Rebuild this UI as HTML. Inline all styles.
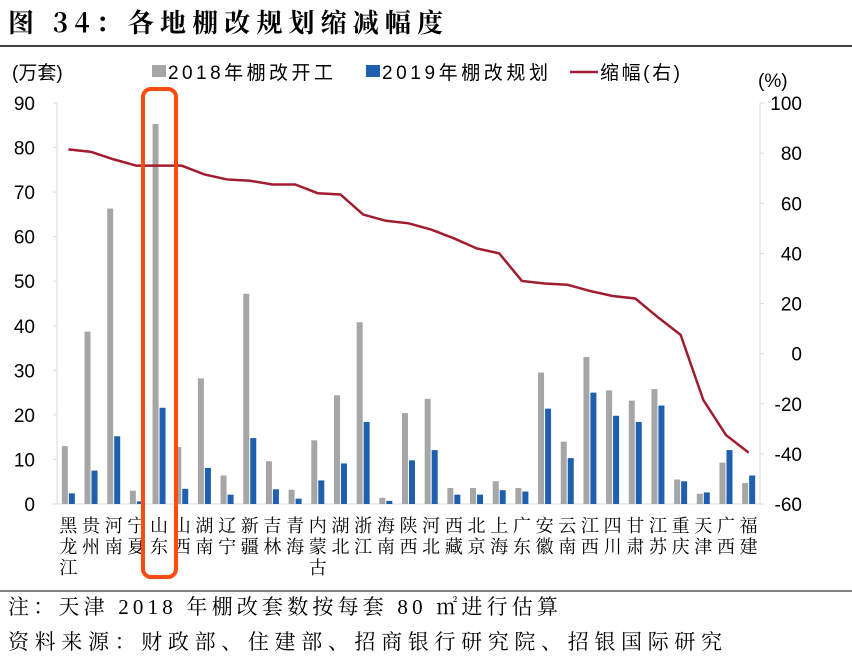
<!DOCTYPE html>
<html><head><meta charset="utf-8"><style>
body{margin:0;background:#fff;width:852px;height:660px;overflow:hidden;font-family:"Liberation Sans","Noto Sans CJK SC",sans-serif}
svg text{font-family:"Liberation Sans","Noto Sans CJK SC",sans-serif}
</style></head><body>
<svg width="852" height="660">
<text x="8" y="32" font-size="26" font-weight="bold" textLength="435" lengthAdjust="spacing" style="font-family:'Noto Serif CJK SC',serif">图 34：各地棚改规划缩减幅度</text>
<line x1="0" y1="46" x2="852" y2="46" stroke="#000" stroke-width="1.5"/>
<text x="12" y="79" font-size="19">(万套)</text>
<text x="758" y="87" font-size="19">(%)</text>
<g>
<rect x="152" y="65" width="14" height="12" fill="#a6a6a6"/>
<text x="168" y="79" font-size="19" textLength="165" lengthAdjust="spacing">2018年棚改开工</text>
<rect x="366" y="65" width="14" height="12" fill="#1f5faf"/>
<text x="382" y="79" font-size="19" textLength="166" lengthAdjust="spacing">2019年棚改规划</text>
<line x1="570" y1="72" x2="598" y2="72" stroke="#a01c2e" stroke-width="2.5"/>
<text x="600" y="79" font-size="19" textLength="80" lengthAdjust="spacing">缩幅(右)</text>
</g>
<g id="axes"></g>
<g id="bars"></g>
<g id="labels"></g>
<rect x="143" y="89" width="33" height="488" rx="8" fill="none" stroke="#ff4a10" stroke-width="4"/>
<line x1="0" y1="591" x2="852" y2="591" stroke="#000" stroke-width="1"/>
<text x="8" y="614" font-size="21" textLength="550" lengthAdjust="spacing" style="font-family:'Liberation Serif','Noto Serif CJK SC',serif">注：天津 2018 年棚改套数按每套 80 ㎡进行估算</text>
<text x="8" y="649" font-size="21" textLength="714" lengthAdjust="spacing" style="font-family:'Liberation Serif','Noto Serif CJK SC',serif">资料来源：财政部、住建部、招商银行研究院、招银国际研究</text>
</svg>
<script>
const categories=["黑龙江","贵州","河南","宁夏","山东","山西","湖南","辽宁","新疆","吉林","青海","内蒙古","湖北","浙江","海南","陕西","河北","西藏","北京","上海","广东","安徽","云南","江西","四川","甘肃","江苏","重庆","天津","广西","福建"];
const starts2018=[13,38.7,66.3,3,85.3,12.8,28.2,6.4,47.2,9.6,3.2,14.3,24.4,40.8,1.4,20.4,23.6,3.6,3.6,5.1,3.6,29.5,14,33,25.5,23.2,25.8,5.5,2.3,9.3,4.7];
const plan2019=[2.4,7.5,15.2,0.6,21.6,3.4,8.1,2.1,14.8,3.3,1.2,5.3,9.1,18.4,0.7,9.8,12.1,2.1,2.1,3.1,2.8,21.4,10.3,25,19.8,18.4,22.1,5.1,2.6,12.1,6.4];
const cutPct=[81.5,80.5,77.5,75,75,75,71.5,69.5,69,67.5,67.5,64,63.5,55.5,53,52,49.5,46,42,40,29,28,27.5,25,23,22,14.5,7.5,-18.5,-32.5,-39.5];
const leftTicks=[0,10,20,30,40,50,60,70,80,90];
const rightTicks=[-60,-40,-20,0,20,40,60,80,100];
const NS="http://www.w3.org/2000/svg";
const X0=57,X1=760,Y0=504,Y1=103;
const band=(X1-X0)/categories.length;
const yL=v=>Y0-(v/90)*(Y0-Y1);
const yR=v=>Y0-((v+60)/160)*(Y0-Y1);
const xc=i=>X0+band*(i+0.5);
function mk(tag,attrs,parent){const e=document.createElementNS(NS,tag);for(const k in attrs)e.setAttribute(k,attrs[k]);parent.appendChild(e);return e;}
const axes=document.getElementById('axes'),bars=document.getElementById('bars'),labels=document.getElementById('labels');
let a=mk('line',{x1:X0,y1:Y1,x2:X0,y2:Y0,stroke:'#d9d9d9'},axes);


a=mk('line',{x1:X1,y1:Y1,x2:X1,y2:Y0,stroke:'#d9d9d9'},axes);


a=mk('line',{x1:X0,y1:Y0,x2:X1,y2:Y0,stroke:'#d9d9d9'},axes);


leftTicks.forEach(v=>{const t=mk('text',{x:35,y:yL(v)+7,'font-size':19,'text-anchor':'end'},axes);t.textContent=v;


mk('line',{x1:X0-4,y1:yL(v),x2:X0,y2:yL(v),stroke:'#d9d9d9'},axes);});
rightTicks.forEach(v=>{const t=mk('text',{x:802,y:yR(v)+7,'font-size':19,'text-anchor':'end'},axes);t.textContent=v;


mk('line',{x1:X1,y1:yR(v),x2:X1+4,y2:yR(v),stroke:'#d9d9d9'},axes);});
const bw=6;
categories.forEach((c,i)=>{
 const g=mk('rect',{x:xc(i)-bw-0.5,y:yL(starts2018[i]),width:bw,height:Y0-yL(starts2018[i]),fill:'#a6a6a6'},bars);
 
 
 const b=mk('rect',{x:xc(i)+0.5,y:yL(plan2019[i]),width:bw,height:Y0-yL(plan2019[i]),fill:'#1f5faf'},bars);
 
 
 [...c].forEach((ch,k)=>{const t=mk('text',{x:xc(i),y:532+k*21,'font-size':18,'text-anchor':'middle',style:"font-family:'Noto Serif CJK SC',serif"},labels);t.textContent=ch;
 
 });
});
const p=mk('polyline',{points:cutPct.map((v,i)=>xc(i)+','+yR(v)).join(' '),fill:'none',stroke:'#a01c2e','stroke-width':2.5},bars);


</script>
</body></html>
